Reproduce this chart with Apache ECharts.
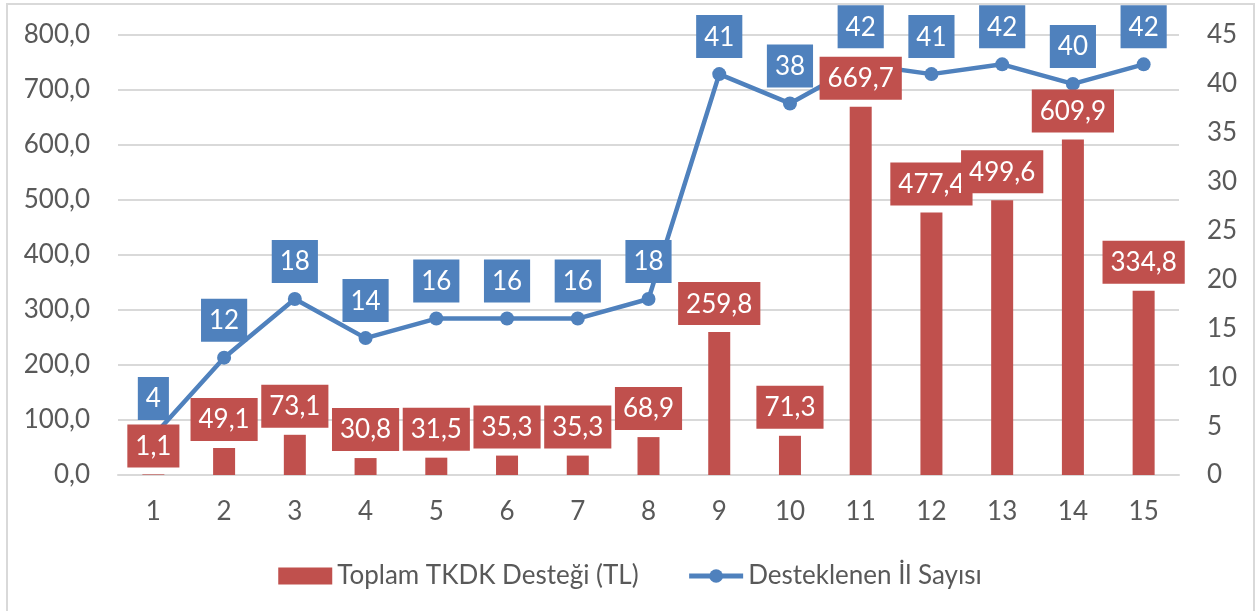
<!DOCTYPE html>
<html>
<head>
<meta charset="utf-8">
<script src="https://cdn.jsdelivr.net/npm/echarts@6/dist/echarts.min.js"></script>
<style>
html, body { margin: 0; padding: 0; background: #fff; overflow: hidden; }
#chart { position: absolute; left: 0; top: 0; width: 1260px; height: 611px; }
#frame { position: absolute; left: 6px; top: 3px; width: 1245px; height: 640px; border: 2px solid #d9d9d9; }
</style>
</head>
<body>
<div id="frame"></div>
<div id="chart"></div>
<script>
// kategoriler ve seriler
var categories = ['1', '2', '3', '4', '5', '6', '7', '8', '9', '10', '11', '12', '13', '14', '15'];
var destekTL = [1.1, 49.1, 73.1, 30.8, 31.5, 35.3, 35.3, 68.9, 259.8, 71.3, 669.7, 477.4, 499.6, 609.9, 334.8];
var ilSayisi = [4, 12, 18, 14, 16, 16, 16, 18, 41, 38, 42, 41, 42, 40, 42];
var seriesNames = ['Toplam TKDK Desteği (TL)', 'Desteklenen İl Sayısı'];

var fontFam = 'Lato, "Open Sans", sans-serif';
var textGray = '#595959';

function fmt1(v) {
    return v.toFixed(1).replace('.', ',');
}

var myChart = echarts.init(document.getElementById('chart'));
var option = {
    animation: false,
    color: ['#C0504D', '#4F81BD'],
    textStyle: { fontFamily: fontFam },
    grid: { left: 118, right: 81, top: 35, bottom: 136 },
    legend: {
        top: 558,
        left: 'center',
        itemGap: 48,
        itemWidth: 54,
        itemHeight: 17,
        textStyle: { color: textGray, fontSize: 26, fontFamily: fontFam },
        data: [
            { name: seriesNames[0], icon: 'rect' },
            { name: seriesNames[1], lineStyle: { width: 5 } }
        ]
    },
    xAxis: {
        type: 'category',
        data: categories,
        axisTick: { show: false },
        axisLine: { lineStyle: { color: '#d9d9d9', width: 2 } },
        axisLabel: { color: textGray, fontSize: 26, margin: 24 }
    },
    yAxis: [{
        type: 'value',
        min: 0,
        max: 800,
        interval: 100,
        axisLine: { show: false },
        axisTick: { show: false },
        splitLine: { lineStyle: { color: '#d9d9d9', width: 2 } },
        axisLabel: {
            color: textGray, fontSize: 26, margin: 28,
            formatter: function (v) { return fmt1(v); }
        }
    }, {
        type: 'value',
        min: 0,
        max: 45,
        interval: 5,
        axisLine: { show: false },
        axisTick: { show: false },
        splitLine: { show: false },
        axisLabel: { color: textGray, fontSize: 26, margin: 28 }
    }],
    series: [{
        name: seriesNames[0],
        type: 'bar',
        data: destekTL,
        barWidth: 22,
        z: 4,
        label: {
            show: true,
            position: 'top',
            distance: 7,
            color: '#fff',
            fontSize: 26,
            backgroundColor: '#C0504D',
            padding: [9, 8, 8, 8],
            formatter: function (p) { return fmt1(p.value); }
        }
    }, {
        name: seriesNames[1],
        type: 'line',
        yAxisIndex: 1,
        data: ilSayisi,
        symbol: 'circle',
        symbolSize: 14,
        lineStyle: { width: 4.5 },
        z: 3,
        label: {
            show: true,
            position: 'top',
            distance: 9,
            color: '#fff',
            fontSize: 26,
            backgroundColor: '#4F81BD',
            padding: [9, 8, 8, 8]
        }
    }]
};
myChart.setOption(option, true);
</script>
</body>
</html>
